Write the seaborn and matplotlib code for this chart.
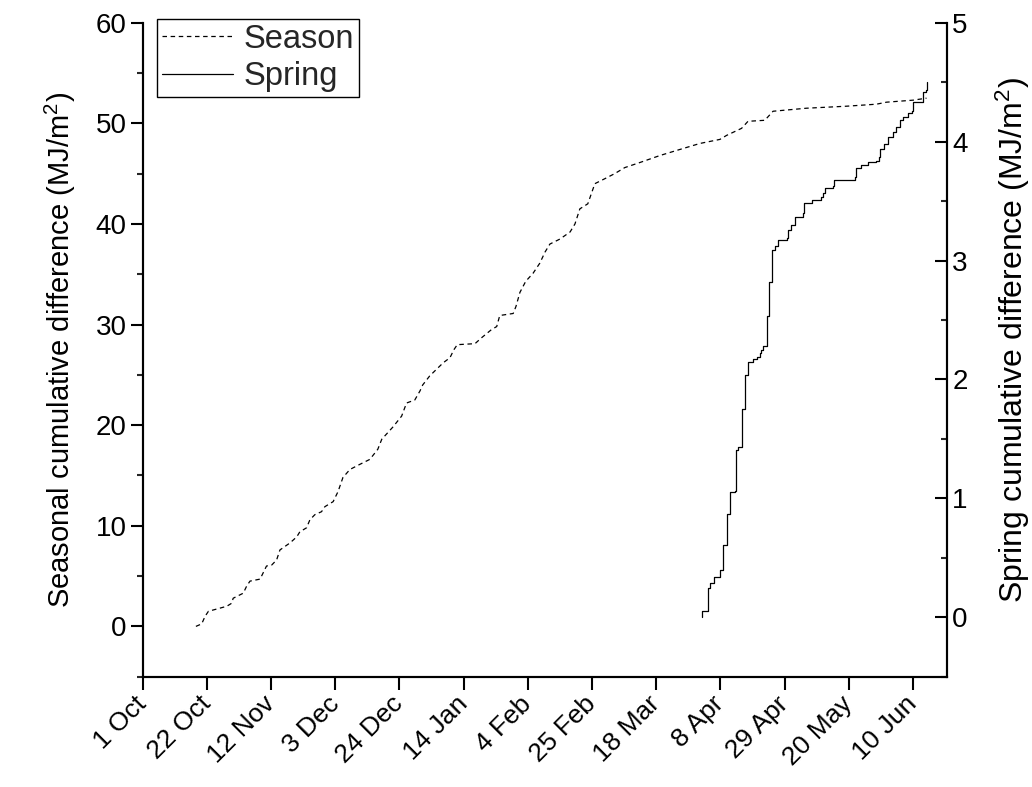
import numpy as np
import pandas as pd
import matplotlib
matplotlib.use("Agg")
import matplotlib.pyplot as plt
import matplotlib.ticker as mticker
import seaborn as sns

# ---------------- data ----------------
season_start = "2006-10-01"   # day 0 of the x axis

# Season: cumulative difference (left axis, MJ/m^2), x = days since 1 Oct
season_days = [17.4, 19.3, 20.4, 21.5, 27.5, 29.1, 29.6, 32.9, 34.0, 35.1, 38.4, 40.5,
               42.2, 43.8, 44.9, 48.2, 50.4, 51.4, 53.6, 54.7, 56.3, 58.5, 59.6, 62.3,
               63.9, 65.5, 67.8, 71.0, 74.3, 76.9, 78.2, 81.8, 84.7, 86.3, 89.0, 90.7,
               91.6, 93.9, 98.3, 100.5, 101.8, 102.9, 108.7, 110.9, 114.1, 115.8, 116.8,
               121.2, 122.1, 123.4, 125.3, 127.7, 129.9, 131.6, 133.2, 136.5, 139.8,
               141.4, 143.0, 145.6, 147.9, 151.2, 154.4, 157.7, 162.6, 169.2, 175.7,
               182.3, 188.8, 191.0, 195.9, 198.0, 203.5, 206.2, 217.1, 230.2, 240.0,
               243.3, 252.0, 256.4]
season_values = [0.0, 0.25, 1.0, 1.5, 2.0, 2.3, 2.8, 3.3, 4.0, 4.5, 4.7, 6.0,
                 6.1, 6.6, 7.6, 8.3, 8.9, 9.4, 9.8, 10.6, 11.1, 11.4, 11.9, 12.4,
                 13.4, 14.8, 15.6, 16.1, 16.6, 17.6, 18.6, 19.8, 20.9, 22.2, 22.5, 23.4,
                 24.0, 24.9, 26.2, 26.7, 27.5, 28.0, 28.1, 28.7, 29.5, 29.8, 30.9,
                 31.1, 31.8, 33.2, 34.3, 35.1, 36.1, 37.2, 38.0, 38.5, 39.2,
                 40.0, 41.5, 42.0, 44.0, 44.5, 45.0, 45.6, 46.1, 46.8, 47.4,
                 48.0, 48.4, 48.8, 49.5, 50.2, 50.3, 51.2, 51.5, 51.7, 51.9,
                 52.1, 52.3, 52.5]

# Spring: cumulative difference (right axis, MJ/m^2), stepwise
spring_days = [182.8, 182.9, 184.8, 185.0, 185.7, 186.9, 188.8, 189.9, 191.0, 192.0,
               193.7, 194.0, 194.8, 196.1, 197.0, 198.0, 199.7, 200.8, 201.9, 202.4,
               203.0, 204.1, 204.9, 205.7, 206.8, 207.8, 210.6, 211.1, 212.2, 213.3,
               216.0, 216.3, 218.8, 222.0, 222.4, 223.1, 225.8, 226.1, 232.9, 233.2,
               235.1, 237.3, 240.0, 240.9, 241.1, 242.4, 243.8, 245.5, 246.3, 247.6,
               248.7, 250.4, 251.5, 252.0, 255.1, 255.3, 256.1, 256.4]
spring_values = [0.00, 0.05, 0.07, 0.25, 0.29, 0.34, 0.40, 0.61, 0.87, 1.05,
                 1.06, 1.41, 1.43, 1.75, 2.04, 2.15, 2.17, 2.19, 2.22, 2.25,
                 2.28, 2.53, 2.82, 3.09, 3.12, 3.17, 3.19, 3.26, 3.30, 3.37,
                 3.40, 3.48, 3.51, 3.53, 3.57, 3.61, 3.63, 3.68, 3.70, 3.78,
                 3.80, 3.83, 3.84, 3.87, 3.94, 3.98, 4.04, 4.08, 4.12, 4.18,
                 4.21, 4.24, 4.26, 4.33, 4.35, 4.42, 4.43, 4.50]

x_tick_labels = ["1 Oct", "22 Oct", "12 Nov", "3 Dec", "24 Dec", "14 Jan", "4 Feb",
                 "25 Feb", "18 Mar", "8 Apr", "29 Apr", "20 May", "10 Jun"]
series_labels = ["Season", "Spring"]
left_label = "Seasonal cumulative difference (MJ/m$^2$)"
right_label = "Spring cumulative difference (MJ/m$^2$)"

# ---------------- style ----------------
sns.set_theme(style="ticks")
plt.rcParams["font.family"] = ["Liberation Sans", "DejaVu Sans"]
plt.rcParams["mathtext.default"] = "regular"

t0 = pd.Timestamp(season_start)
season_df = pd.DataFrame({"date": t0 + pd.to_timedelta(season_days, unit="D"),
                          "value": season_values})
spring_df = pd.DataFrame({"date": t0 + pd.to_timedelta(spring_days, unit="D"),
                          "value": spring_values})

W, H = 1032, 787
fig = plt.figure(figsize=(W / 100, H / 100), dpi=100)
L, R, T, B = 142.7, 946.7, 22.7, 676.7
ax = fig.add_axes([L / W, 1 - B / H, (R - L) / W, (B - T) / H])
ax2 = ax.twinx()

sns.lineplot(data=season_df, x="date", y="value", ax=ax, color="black",
             linewidth=0.9, linestyle=(0, (3.6, 2.9)), estimator=None, legend=False)
sns.lineplot(data=spring_df, x="date", y="value", ax=ax2, color="black",
             linewidth=0.9, drawstyle="steps-post", estimator=None, legend=False)

ax.set_xlim(t0, t0 + pd.Timedelta(days=263))
ax.set_ylim(-5, 60)
ax2.set_ylim(-0.5, 5)

tick_dates = pd.date_range(t0, periods=len(x_tick_labels), freq="21D")
ax.set_xticks(tick_dates)
ax.set_xticklabels(x_tick_labels, rotation=45, ha="right", va="center",
                   rotation_mode="anchor")
ax.yaxis.set_major_locator(mticker.MultipleLocator(10))
ax.yaxis.set_minor_locator(mticker.MultipleLocator(5))
ax2.yaxis.set_major_locator(mticker.MultipleLocator(1))
ax2.yaxis.set_minor_locator(mticker.MultipleLocator(0.5))

ax.tick_params(axis="x", which="major", direction="out", length=9, width=1.5,
               labelsize=19, pad=8, color="black", labelcolor="black")
ax.tick_params(axis="x", which="minor", bottom=False)
ax.tick_params(axis="y", which="major", direction="out", length=8.5, width=1.5,
               labelsize=20, pad=3, color="black", labelcolor="black")
ax.tick_params(axis="y", which="minor", direction="out", length=4.5, width=1.5)
ax2.tick_params(axis="y", which="major", direction="in", length=8.5, width=1.5,
                labelsize=20, pad=4, color="black", labelcolor="black")
ax2.tick_params(axis="y", which="minor", direction="in", length=4.5, width=1.5)

for a in (ax, ax2):
    a.spines["top"].set_visible(False)
    for s in ("left", "right", "bottom"):
        a.spines[s].set_linewidth(1.5)
        a.spines[s].set_color("black")
    a.set_xlabel("")

ax.set_ylabel(left_label, fontsize=21, color="black")
ax.yaxis.set_label_coords(-0.080, 0.5)
ax2.set_ylabel(right_label, fontsize=23, color="black", rotation=90)
ax2.yaxis.set_label_coords(1.059, 0.515)

handles = [ax.lines[0], ax2.lines[0]]
leg = ax2.legend(handles, series_labels, loc="upper left",
                 bbox_to_anchor=(156.7 / W, 1 - 19 / H), bbox_transform=fig.transFigure,
                 borderaxespad=0, fontsize=23.5, handlelength=2.2, handletextpad=0.3,
                 borderpad=0.15, labelspacing=0.2, frameon=True, fancybox=False,
                 framealpha=1, edgecolor="black")
leg.get_frame().set_linewidth(1.0)

fig.savefig("out.png", dpi=100)
